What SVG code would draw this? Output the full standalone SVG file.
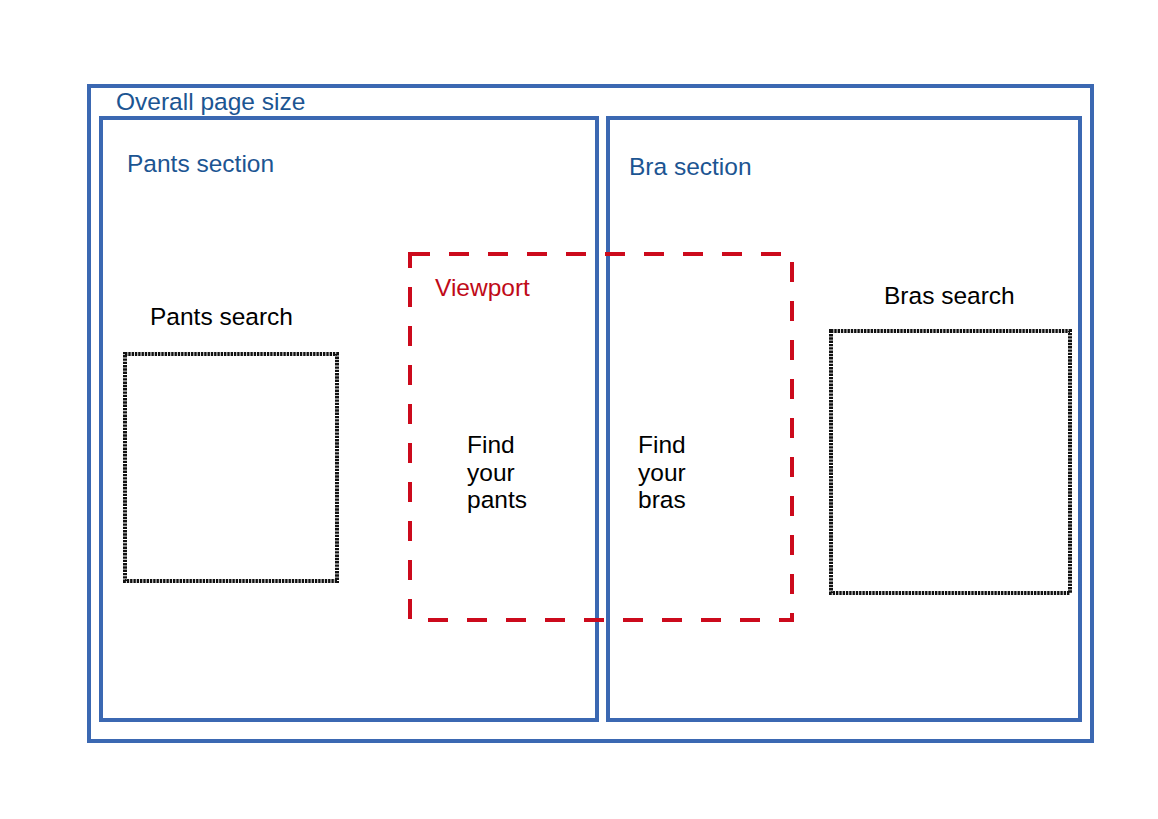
<svg xmlns="http://www.w3.org/2000/svg" width="1158" height="819" viewBox="0 0 1158 819">
<style>
.sec{fill:none;stroke:#3b68b2;stroke-width:4}
.dot{fill:none;stroke:#111;stroke-width:4;stroke-dasharray:2.4 0.9}
.vp{fill:none;stroke:#cc0a1c;stroke-width:4;stroke-dasharray:20 19}
.lbl{font-family:"Liberation Sans",Arial,sans-serif;font-size:24.5px;fill:#1c5592}
.blk{font-family:"Liberation Sans",Arial,sans-serif;font-size:24.5px;fill:#000}
.red{font-family:"Liberation Sans",Arial,sans-serif;font-size:24.5px;fill:#c00a18}
</style>
<rect width="1158" height="819" fill="#fff"/>
<g id="page">
<rect class="sec" x="89" y="86" width="1003" height="655"/>
<text class="lbl" x="116" y="110">Overall page size</text>
</g>
<g id="pants-section">
<rect class="sec" x="101" y="118" width="496" height="602"/>
<text class="lbl" x="127" y="172">Pants section</text>
</g>
<g id="bra-section">
<rect class="sec" x="608" y="118" width="472" height="602"/>
<text class="lbl" x="629" y="175">Bra section</text>
</g>
<g id="pants-search">
<rect class="dot" x="125" y="354" width="212" height="227"/>
<text class="blk" x="150" y="325">Pants search</text>
</g>
<g id="bras-search">
<rect class="dot" x="831" y="331" width="239" height="262"/>
<text class="blk" x="884" y="304">Bras search</text>
</g>
<g id="viewport">
<rect class="vp" x="410" y="254" width="382" height="366"/>
<text class="red" x="435" y="296">Viewport</text>
</g>
<g id="find-pants">
<text class="blk" x="467" y="453">Find</text>
<text class="blk" x="467" y="481">your</text>
<text class="blk" x="467" y="508">pants</text>
</g>
<g id="find-bras">
<text class="blk" x="638" y="453">Find</text>
<text class="blk" x="638" y="481">your</text>
<text class="blk" x="638" y="508">bras</text>
</g>
<g id="connectors"/>
</svg>
